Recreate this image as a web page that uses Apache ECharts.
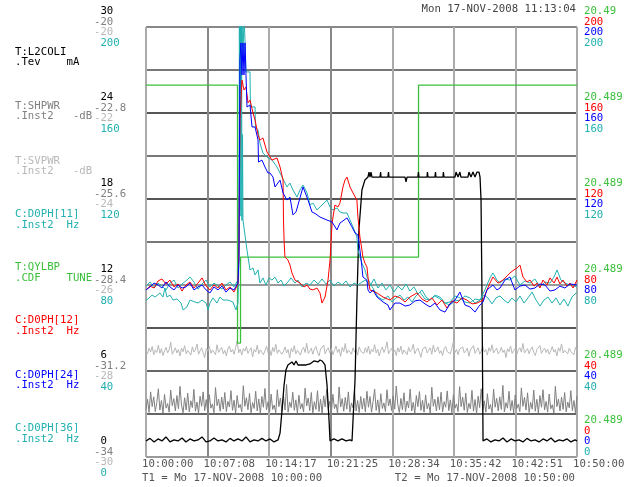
<!DOCTYPE html>
<html>
<head>
<meta charset="utf-8">
<script src="https://cdn.jsdelivr.net/npm/echarts@6/dist/echarts.min.js"></script>
<style>
html, body { margin: 0; padding: 0; background: #fff; }
#main { width: 629px; height: 487px; }
</style>
</head>
<body>
<div id="main"></div>
<script>
// 时间轴 (秒, 从 10:00:00 开始)
var xTicks = ['10:00:00', '10:07:08', '10:14:17', '10:21:25', '10:28:34', '10:35:42', '10:42:51', '10:50:00'];

// 左侧刻度
var l2coliTicks = [' 0', ' 6', ' 12', ' 18', ' 24', ' 30'];
var shpwrTicks = ['-34', '-31.2', '-28.4', '-25.6', '-22.8', '-20'];
var svpwrTicks = ['-30', '-28', '-26', '-24', '-22', '-20'];
var d0ph11Ticks = [' 0', ' 40', ' 80', ' 120', ' 160', ' 200'];
// 右侧刻度
var qylbpTicks = ['20.489', '20.489', '20.489', '20.489', '20.489', '20.49'];
var d0phTicks = ['0', '40', '80', '120', '160', '200'];

// T:QYLBP.CDF (TUNE)
var qylbp = [[0, 20.48973], [637, 20.48973], [637, 20.48853], [658, 20.48853], [658, 20.48893],
	[1897, 20.48893], [1897, 20.48973], [3000, 20.48973]];

// T:L2COLI.Tev (mA)
var l2coli = [[0, 1.12], [28, 1.30], [56, 1.05], [84, 1.26], [111, 1.12], [139, 1.40], [167, 1.05], [195, 1.19],
	[223, 1.12], [251, 1.33], [278, 1.05], [306, 1.26], [334, 1.12], [362, 1.19], [390, 1.40], [418, 1.05],
	[445, 1.12], [473, 1.33], [501, 1.12], [529, 1.19], [557, 1.05], [585, 1.30], [612, 1.12], [640, 1.26],
	[668, 1.12], [696, 1.40], [724, 1.05], [752, 1.19], [780, 1.12], [807, 1.30], [835, 1.12], [863, 1.26],
	[891, 1.05], [919, 1.19],
	[933, 1.67], [947, 3.28], [961, 5.02], [974, 6.07], [988, 6.42],
	[1016, 6.63], [1030, 6.42], [1044, 6.70], [1058, 6.42], [1086, 6.42], [1114, 6.42], [1141, 6.49],
	[1169, 6.70], [1197, 6.63], [1211, 6.77], [1225, 6.70], [1246, 6.42],
	[1260, 5.02], [1274, 2.58], [1281, 1.12],
	[1308, 1.26], [1336, 1.12], [1364, 1.26], [1392, 1.12], [1420, 1.19], [1434, 1.12],
	[1441, 2.58], [1455, 5.37], [1468, 10.95], [1482, 15.84], [1503, 18.63], [1524, 19.33], [1545, 19.53],
	[1552, 19.88], [1559, 19.53], [1566, 19.88], [1573, 19.53], [1629, 19.53], [1633, 19.88], [1636, 19.53],
	[1684, 19.53], [1688, 19.88], [1691, 19.53], [1803, 19.53], [1810, 19.19], [1817, 19.53], [1893, 19.53],
	[1896, 19.88], [1900, 19.53], [1956, 19.53], [1959, 19.88], [1963, 19.53], [2011, 19.53], [2015, 19.88],
	[2018, 19.53], [2067, 19.53], [2070, 19.88], [2074, 19.53], [2151, 19.53], [2158, 19.88], [2172, 19.53],
	[2185, 19.88], [2192, 19.53], [2241, 19.53], [2248, 19.88], [2262, 19.53], [2276, 19.88], [2290, 19.53],
	[2304, 19.88], [2318, 19.88], [2325, 19.53],
	[2332, 17.93], [2339, 10.95], [2346, 1.12],
	[2373, 1.26], [2401, 1.05], [2429, 1.19], [2457, 1.12], [2485, 1.33], [2513, 1.05], [2541, 1.26],
	[2568, 1.12], [2596, 1.19], [2624, 1.05], [2652, 1.30], [2680, 1.12], [2708, 1.19], [2736, 1.05],
	[2764, 1.26], [2791, 1.12], [2819, 1.33], [2847, 1.05], [2875, 1.19], [2903, 1.12], [2931, 1.26],
	[2958, 1.05], [2986, 1.19], [3000, 1.12]];

// T:SHPWR.Inst2 (-dB), 等间隔采样
var shpwr = [-32.45, -32.12, -32.55, -31.88, -32.36, -32.04, -32.52, -32.22, -31.78, -32.47, -32.16, -32.57, -31.96, -32.41, -32.26, -32.54, -31.82, -32.33, -32.10, -32.50,
	-32.00, -32.43, -31.70, -32.31, -32.56, -32.07, -32.47, -31.92, -32.53, -32.17, -32.39, -31.80, -32.51, -32.21, -32.58, -32.02, -32.35, -31.88, -32.49, -32.13,
	-32.55, -31.97, -32.41, -32.27, -32.56, -31.74, -32.33, -32.11, -32.51, -32.05, -32.44, -31.90, -32.52, -32.19, -32.37, -31.84, -32.48, -32.15, -32.57, -32.00,
	-32.40, -32.29, -32.53, -31.68, -32.35, -32.07, -32.46, -31.93, -32.56, -32.23, -32.42, -31.86, -32.50, -32.11, -32.58, -32.03, -32.38, -31.77, -32.47, -32.20,
	-32.53, -31.95, -32.45, -32.31, -32.56, -31.81, -32.36, -32.08, -32.51, -32.02, -32.47, -31.64, -32.54, -32.21, -32.39, -31.89, -32.48, -32.14, -32.57, -31.99,
	-32.43, -32.26, -32.53, -31.76, -32.34, -32.08, -32.49, -31.90, -32.56, -32.20, -32.45, -31.84, -32.52, -32.12, -32.57, -32.01, -32.37, -31.80, -32.46, -32.18,
	-32.55, -31.96, -32.42, -32.28, -32.58, -31.72, -32.37, -32.10, -32.51, -32.06, -32.44, -31.88, -32.54, -32.24, -32.40, -31.83, -32.50, -32.16, -32.55, -32.03,
	-32.44, -32.09, -32.53, -31.86, -32.38, -32.03, -32.54, -32.19, -31.79, -32.48, -32.14, -32.56, -31.94, -32.42, -32.24, -32.52, -31.81, -32.34, -32.11, -32.49,
	-32.01, -32.44, -31.69, -32.30, -32.55, -32.09, -32.46, -31.91, -32.52, -32.18, -32.40, -31.79, -32.50, -32.22, -32.57, -32.00, -32.36, -31.87, -32.48, -32.15,
	-32.54, -31.98, -32.43, -32.25, -32.57, -31.73, -32.35, -32.12, -32.50, -32.04, -32.46, -31.89, -32.53, -32.20, -32.38, -31.85, -32.49, -32.14, -32.56, -31.97,
	-32.41, -32.27, -32.52, -31.71, -32.36, -32.05, -32.48, -31.92, -32.55, -32.25, -32.43, -31.83, -32.51, -32.13, -32.58, -32.02, -32.39, -31.78, -32.48, -32.17,
	-32.54, -31.94, -32.44, -32.29, -32.56, -31.79, -32.38, -32.09, -32.50, -32.04, -32.45, -31.67, -32.53, -32.23, -32.41, -31.86, -32.49, -32.16, -32.56, -31.98,
	-32.42, -32.28, -32.52, -31.75, -32.35, -32.06, -32.47, -31.91, -32.55, -32.22, -32.44, -31.82, -32.51, -32.12, -32.57, -32.00, -32.38, -31.81, -32.47, -32.19,
	-32.54, -31.95, -32.43, -32.30, -32.57, -31.70, -32.36, -32.11, -32.50, -32.05, -32.45, -31.90, -32.53, -32.21, -32.40, -31.84, -32.49, -32.16, -32.56, -32.02];

// T:SVPWR.Inst2 (-dB), 等间隔采样
var svpwr = [-27.52, -27.60, -27.47, -27.56, -27.43, -27.62, -27.51, -27.57, -27.40, -27.59, -27.48, -27.64, -27.53, -27.45, -27.58, -27.50, -27.33, -27.61, -27.54, -27.46,
	-27.58, -27.50, -27.65, -27.47, -27.55, -27.41, -27.60, -27.52, -27.49, -27.63, -27.44, -27.56, -27.51, -27.37, -27.61, -27.53, -27.46, -27.58, -27.69, -27.48,
	-27.54, -27.43, -27.59, -27.51, -27.47, -27.62, -27.39, -27.57, -27.50, -27.45, -27.60, -27.52, -27.65, -27.49, -27.42, -27.56, -27.50, -27.61, -27.46, -27.30,
	-27.58, -27.49, -27.63, -27.48, -27.54, -27.43, -27.59, -27.52, -27.46, -27.67, -27.50, -27.56, -27.40, -27.60, -27.51, -27.47, -27.62, -27.53, -27.42, -27.57,
	-27.49, -27.64, -27.45, -27.55, -27.38, -27.59, -27.51, -27.48, -27.61, -27.54, -27.44, -27.58, -27.50, -27.70, -27.47, -27.56, -27.41, -27.60, -27.52, -27.49,
	-27.63, -27.50, -27.45, -27.57, -27.35, -27.59, -27.54, -27.47, -27.61, -27.49, -27.43, -27.56, -27.65, -27.49, -27.53, -27.40, -27.60, -27.51, -27.46, -27.58,
	-27.48, -27.62, -27.52, -27.42, -27.57, -27.49, -27.66, -27.45, -27.55, -27.36, -27.59, -27.51, -27.49, -27.61, -27.46, -27.56, -27.50, -27.63, -27.44, -27.54,
	-27.51, -27.59, -27.46, -27.57, -27.42, -27.61, -27.50, -27.55, -27.39, -27.58, -27.49, -27.65, -27.52, -27.44, -27.57, -27.48, -27.32, -27.60, -27.53, -27.47,
	-27.59, -27.51, -27.64, -27.46, -27.56, -27.42, -27.61, -27.51, -27.48, -27.62, -27.45, -27.55, -27.50, -27.38, -27.60, -27.52, -27.47, -27.57, -27.68, -27.49,
	-27.53, -27.44, -27.58, -27.52, -27.46, -27.61, -27.40, -27.56, -27.51, -27.44, -27.59, -27.53, -27.64, -27.48, -27.43, -27.55, -27.51, -27.60, -27.47, -27.31,
	-27.57, -27.50, -27.62, -27.49, -27.53, -27.44, -27.58, -27.53, -27.47, -27.66, -27.51, -27.55, -27.41, -27.59, -27.52, -27.46, -27.61, -27.54, -27.43, -27.56,
	-27.50, -27.63, -27.46, -27.54, -27.39, -27.58, -27.52, -27.47, -27.60, -27.55, -27.45, -27.57, -27.51, -27.69, -27.48, -27.55, -27.42, -27.59, -27.53, -27.48,
	-27.62, -27.51, -27.46, -27.56, -27.36, -27.58, -27.55, -27.48, -27.60, -27.50, -27.44, -27.57, -27.64, -27.50, -27.52, -27.41, -27.59, -27.52, -27.47, -27.57,
	-27.49, -27.61, -27.53, -27.43, -27.56, -27.50, -27.65, -27.46, -27.54, -27.37, -27.58, -27.52, -27.48, -27.60, -27.47, -27.55, -27.51, -27.62, -27.45, -27.53];

// C:D0PH[11].Inst2 (Hz)
var d0ph11 = [[0, 79.5], [28, 81.4], [56, 78.6], [84, 80.9], [111, 79.5], [139, 77.7], [167, 80.9], [195, 82.3],
	[223, 78.6], [251, 80.5], [278, 81.9], [306, 83.7], [334, 81.4], [362, 78.1], [390, 80.5], [418, 82.3],
	[445, 79.1], [473, 80.9], [501, 79.5], [529, 78.1], [557, 80.0], [585, 81.4], [612, 79.1], [640, 82.3],
	[647, 100.9], [654, 203], [661, 166], [668, 206], [675, 184.7], [682, 206], [689, 194], [696, 179.1],
	[724, 179.1], [727, 162.8], [759, 162.8], [762, 153.5], [780, 152.1], [793, 146.0], [814, 141.4],
	[842, 139.5], [877, 138.1], [912, 134.9], [947, 130.2], [981, 125.6], [1002, 127.4], [1023, 124.2],
	[1051, 120.9], [1072, 124.2], [1093, 126.5], [1121, 122.8], [1141, 117.2], [1162, 118.1], [1190, 114.9],
	[1225, 117.2], [1260, 119.5], [1281, 116.3], [1301, 114.9], [1329, 115.8], [1350, 114.0], [1371, 113.5],
	[1399, 113.5], [1420, 110.2], [1441, 107.0], [1468, 102.3], [1475, 96.3], [1503, 90.2], [1524, 87.0],
	[1538, 83.7], [1559, 80.9], [1587, 77.7], [1615, 74.4], [1650, 73.0], [1684, 74.9], [1712, 72.1],
	[1740, 74.0], [1768, 75.3], [1796, 73.0], [1823, 74.4], [1851, 72.1], [1879, 74.9], [1907, 76.7],
	[1942, 73.5], [1977, 73.0], [2011, 75.3], [2046, 74.4], [2081, 71.6], [2116, 72.1], [2151, 74.9],
	[2185, 74.0], [2220, 72.1], [2255, 71.6], [2290, 73.5], [2325, 73.0], [2359, 77.7], [2394, 83.3],
	[2415, 85.6], [2443, 82.3], [2464, 80.9], [2499, 82.8], [2533, 82.3], [2568, 84.2], [2603, 80.0],
	[2638, 81.9], [2673, 80.9], [2707, 82.8], [2742, 79.1], [2777, 81.4], [2812, 80.9], [2840, 83.7],
	[2861, 87.0], [2888, 82.3], [2916, 80.9], [2951, 80.0], [3000, 79.1]];

// C:D0PH[12].Inst2 (Hz)
var d0ph12 = [[0, 77.7], [28, 79.5], [56, 78.6], [84, 81.9], [111, 82.8], [139, 80.5], [167, 82.3], [195, 79.1],
	[223, 80.5], [251, 77.2], [278, 80.0], [306, 81.4], [334, 78.6], [362, 80.9], [390, 83.3], [418, 79.5],
	[445, 77.7], [473, 80.0], [501, 78.6], [529, 80.9], [557, 77.7], [585, 79.1], [612, 76.7], [640, 80.5],
	[647, 96.3], [654, 156.7], [668, 175.3], [682, 170.7], [696, 172.1], [710, 164.7], [724, 166.0],
	[745, 160.0], [759, 156.7], [780, 149.8], [793, 147.4], [814, 148.4], [828, 145.1], [842, 141.9],
	[877, 138.1], [912, 139.1], [933, 134.9], [954, 128.8], [957, 110.2], [961, 100.9], [967, 93.0],
	[988, 91.6], [1002, 89.3], [1016, 85.6], [1037, 82.3], [1072, 80.9], [1100, 79.1], [1121, 80.0],
	[1141, 78.1], [1162, 77.7], [1190, 78.6], [1211, 76.3], [1225, 71.6], [1246, 74.4], [1267, 82.3],
	[1281, 91.6], [1295, 108.8], [1315, 117.2], [1336, 116.3], [1350, 118.1], [1371, 125.6], [1385, 128.8],
	[1399, 130.2], [1420, 125.6], [1441, 122.8], [1468, 119.5], [1475, 111.6], [1489, 102.3], [1503, 96.3],
	[1510, 93.0], [1524, 90.2], [1538, 88.4], [1545, 83.7], [1559, 77.7], [1608, 76.3], [1650, 74.4],
	[1698, 73.0], [1733, 74.9], [1768, 74.0], [1803, 72.1], [1837, 74.4], [1886, 76.3], [1921, 73.5],
	[1956, 72.1], [1990, 74.0], [2025, 70.7], [2060, 73.0], [2095, 69.3], [2130, 72.6], [2165, 71.6],
	[2199, 74.0], [2234, 73.0], [2269, 71.2], [2304, 71.6], [2346, 73.0], [2373, 77.7], [2394, 80.9],
	[2415, 83.7], [2450, 80.9], [2485, 82.3], [2513, 84.2], [2533, 85.6], [2561, 87.0], [2582, 87.9],
	[2603, 89.3], [2624, 83.7], [2652, 81.4], [2673, 82.3], [2701, 79.5], [2722, 80.9], [2742, 78.6],
	[2763, 82.3], [2791, 80.0], [2812, 83.3], [2840, 80.9], [2861, 83.7], [2881, 80.5], [2902, 82.3],
	[2930, 79.5], [2951, 80.9], [2972, 78.6], [3000, 82.3]];

// C:D0PH[24].Inst2 (Hz)
var d0ph24 = [[0, 77.7], [28, 79.1], [56, 80.9], [84, 80.0], [111, 78.6], [139, 81.4], [167, 79.1], [195, 77.7],
	[223, 80.0], [251, 78.6], [278, 79.1], [306, 80.9], [334, 77.7], [362, 79.1], [390, 80.0], [418, 77.7],
	[445, 76.3], [473, 79.1], [501, 77.7], [529, 79.5], [557, 76.7], [585, 78.6], [612, 77.7], [640, 80.9],
	[647, 91.6], [654, 184.7], [661, 192.6], [668, 177.7], [675, 192.6], [682, 177.7], [689, 192.6],
	[696, 177.7], [703, 162.8], [724, 163.7], [738, 153.5], [759, 153.5], [780, 147.4], [783, 137.2],
	[807, 138.1], [828, 134.9], [849, 132.1], [863, 132.1], [884, 130.2], [898, 125.6], [933, 128.8],
	[954, 122.8], [981, 119.5], [1002, 120.9], [1023, 112.6], [1044, 114.0], [1058, 117.2], [1093, 125.6],
	[1128, 119.5], [1155, 114.0], [1183, 113.0], [1211, 111.6], [1260, 110.2], [1295, 109.3], [1329, 105.6],
	[1350, 108.8], [1399, 111.2], [1434, 107.0], [1455, 104.2], [1475, 103.3], [1489, 96.3], [1503, 88.4],
	[1510, 83.7], [1538, 82.3], [1545, 77.7], [1559, 76.3], [1580, 77.7], [1608, 74.4], [1650, 72.1],
	[1684, 70.7], [1698, 68.4], [1733, 71.6], [1768, 71.6], [1803, 70.2], [1837, 70.7], [1872, 72.6],
	[1907, 73.0], [1942, 71.2], [1977, 69.8], [2011, 71.6], [2046, 68.4], [2081, 67.4], [2116, 71.2],
	[2151, 73.0], [2185, 76.7], [2220, 70.7], [2255, 69.8], [2290, 67.4], [2318, 70.2], [2346, 72.1],
	[2373, 77.7], [2415, 80.0], [2443, 77.7], [2464, 78.6], [2499, 82.3], [2533, 83.7], [2568, 77.7],
	[2603, 79.5], [2638, 80.0], [2673, 78.1], [2707, 78.6], [2742, 80.5], [2777, 80.0], [2812, 77.2],
	[2847, 77.7], [2881, 79.5], [2916, 78.6], [2951, 80.5], [3000, 80.0]];

// C:D0PH[36].Inst2 (Hz)
var d0ph36 = [[0, 73.0], [14, 73.5], [42, 75.3], [63, 74.4], [97, 76.3], [118, 74.4], [132, 78.6], [146, 74.4],
	[167, 75.3], [188, 73.0], [216, 73.5], [244, 71.6], [258, 68.4], [285, 69.8], [306, 73.0], [341, 72.1],
	[362, 71.6], [390, 73.0], [418, 71.6], [432, 68.4], [445, 71.6], [466, 74.0], [494, 71.6], [515, 74.4],
	[536, 73.0], [571, 73.0], [605, 72.1], [626, 68.4], [640, 71.6],
	[647, 91.6], [650, 205], [654, 115], [658, 205], [661, 112], [665, 205], [668, 110], [672, 150], [675, 110.2],
	[703, 96.3], [724, 87.0], [745, 87.9],
	[759, 84.7], [780, 87.0], [793, 80.9], [814, 83.3], [835, 80.0], [856, 83.3], [877, 82.3], [898, 83.7],
	[919, 80.9], [940, 82.3], [961, 79.5], [988, 81.4], [1009, 83.3], [1037, 80.9], [1058, 82.3], [1086, 79.1],
	[1114, 80.9], [1141, 80.0], [1169, 82.3], [1197, 80.5], [1225, 82.8], [1253, 80.5], [1281, 82.3],
	[1308, 79.5], [1336, 81.4], [1364, 80.0], [1392, 81.9], [1420, 79.1], [1448, 80.9], [1475, 80.0],
	[1503, 81.4], [1531, 82.3], [1559, 79.5], [1587, 82.8], [1615, 78.6], [1643, 80.9], [1670, 77.7],
	[1698, 80.0], [1726, 76.7], [1754, 79.5], [1782, 77.7], [1810, 80.5], [1837, 77.2], [1865, 79.1],
	[1893, 75.8], [1921, 77.7], [1949, 74.4], [1977, 73.0], [2011, 74.9], [2046, 73.5], [2081, 71.6],
	[2116, 70.7], [2151, 72.6], [2185, 73.0], [2220, 74.9], [2255, 74.0], [2290, 71.6], [2325, 73.0],
	[2352, 75.3], [2380, 74.0], [2408, 71.2], [2436, 74.0], [2464, 74.9], [2492, 73.0], [2520, 71.6],
	[2547, 74.0], [2575, 72.1], [2603, 74.9], [2631, 71.6], [2659, 74.0], [2687, 76.7], [2715, 73.0],
	[2742, 70.2], [2770, 73.0], [2798, 74.4], [2826, 71.6], [2854, 74.0], [2881, 70.7], [2909, 73.5],
	[2937, 70.2], [2965, 74.4], [3000, 76.7]];

var BLACK = '#000000', GREY = '#808080', LGREY = '#b8b8b8', CYAN = '#22b0b0',
	GREEN = '#3cc03c', RED = '#ff0000', BLUE = '#0000ff';
var FONT = '"DejaVu Sans Mono", monospace';
var FS = 10.7;

// 等间隔采样转成 [t, v]
function withTime(vals) {
	var out = [];
	var step = 3000 / (vals.length - 1);
	for (var i = 0; i < vals.length; i++) {
		out.push([i * step, vals[i]]);
	}
	return out;
}

function rs(color) {
	return { color: color, fontFamily: FONT, fontSize: FS, lineHeight: 10.5 };
}

function lineSeries(name, yIdx, data, color, width) {
	return {
		name: name,
		type: 'line',
		yAxisIndex: yIdx,
		data: data,
		symbol: 'none',
		showSymbol: false,
		silent: true,
		clip: true,
		lineStyle: { color: color, width: width || 1 }
	};
}

// 左侧通道名
var names = [
	['T:L2COLI', 53, BLACK], ['.Tev    mA', 63, BLACK],
	['T:SHPWR', 107, GREY], ['.Inst2   -dB', 117, GREY],
	['T:SVPWR', 162, LGREY], ['.Inst2   -dB', 172, LGREY],
	['C:D0PH[11]', 215, CYAN], ['.Inst2  Hz', 226, CYAN],
	['T:QYLBP', 268, GREEN], ['.CDF    TUNE', 279, GREEN],
	['C:D0PH[12]', 321, RED], ['.Inst2  Hz', 332, RED],
	['C:D0PH[24]', 376, BLUE], ['.Inst2  Hz', 386, BLUE],
	['C:D0PH[36]', 429, CYAN], ['.Inst2  Hz', 440, CYAN]
];

var graphics = [];
for (var i = 0; i < names.length; i++) {
	graphics.push({
		type: 'text', left: 15, top: names[i][1] - 6, silent: true,
		style: { text: names[i][0], fill: names[i][2], font: FS + 'px ' + FONT }
	});
}
graphics.push({
	type: 'text', right: 53, top: 4, silent: true,
	style: { text: 'Mon 17-NOV-2008 11:13:04', fill: '#444', font: FS + 'px ' + FONT }
});
graphics.push({
	type: 'text', left: 142, top: 473, silent: true,
	style: { text: 'T1 = Mo 17-NOV-2008 10:00:00', fill: '#555', font: FS + 'px ' + FONT }
});
graphics.push({
	type: 'text', right: 54, top: 473, silent: true,
	style: { text: 'T2 = Mo 17-NOV-2008 10:50:00', fill: '#555', font: FS + 'px ' + FONT }
});

var myChart = echarts.init(document.getElementById('main'), null, { renderer: 'canvas' });

var option = {
	backgroundColor: '#ffffff',
	animation: false,
	grid: { left: 146, right: 52, top: 27, bottom: 30, outerBoundsMode: 'none' },
	graphic: graphics,
	xAxis: {
		type: 'value',
		min: 0,
		max: 3000,
		interval: 3000 / 7,
		axisLine: { show: false },
		axisTick: { show: false },
		splitLine: {
			show: true,
			lineStyle: { width: 2, color: ['#aaaaaa', '#888888', '#aaaaaa', '#888888', '#aaaaaa', '#aaaaaa', '#aaaaaa', '#777777'] }
		},
		axisLabel: {
			showMinLabel: true,
			showMaxLabel: true,
			align: 'left',
			padding: [0, 0, 0, -4],
			margin: 2,
			color: '#555',
			fontFamily: FONT,
			fontSize: FS,
			formatter: function (v) {
				return xTicks[Math.round(v * 7 / 3000)];
			}
		}
	},
	yAxis: [{
		// L2COLI, 左侧刻度组
		type: 'value',
		position: 'left',
		min: 0,
		max: 30,
		interval: 3,
		axisLine: { show: false },
		axisTick: { show: false },
		splitLine: {
			show: true,
			lineStyle: {
				width: 2,
				color: ['#999999', '#666666', '#666666', '#555555', '#999999', '#777777', '#555555', '#777777', '#555555', '#777777', '#888888']
			}
		},
		axisLabel: {
			showMinLabel: true,
			showMaxLabel: true,
			align: 'left',
			margin: 52,
			lineHeight: 10.5,
			formatter: function (v) {
				var k = Math.round(v / 6);
				if (Math.abs(v - k * 6) > 0.01) return '';
				return '{a|' + l2coliTicks[k] + '}\n{b|' + shpwrTicks[k] + '}\n{c|' + svpwrTicks[k] + '}\n{d|' + d0ph11Ticks[k] + '}';
			},
			rich: { a: rs(BLACK), b: rs(GREY), c: rs(LGREY), d: rs(CYAN) }
		}
	}, {
		// D0PH, 右侧刻度组
		type: 'value',
		position: 'right',
		min: 0,
		max: 200,
		interval: 20,
		axisLine: { show: false },
		axisTick: { show: false },
		splitLine: { show: false },
		axisLabel: {
			showMinLabel: true,
			showMaxLabel: true,
			align: 'left',
			margin: 7,
			lineHeight: 10.5,
			formatter: function (v) {
				var k = Math.round(v / 40);
				if (Math.abs(v - k * 40) > 0.01) return '';
				var s = '{g|' + qylbpTicks[k] + '}\n{r|' + d0phTicks[k] + '}\n{b|' + d0phTicks[k] + '}\n{c|' + d0phTicks[k] + '}';
				if (k === 0) s += '\n{e| }\n{e| }\n{e| }\n{e| }';
				return s;
			},
			rich: { g: rs(GREEN), r: rs(RED), b: rs(BLUE), c: rs(CYAN), e: rs('#fff') }
		}
	}, {
		type: 'value', show: false, min: -34, max: -20, splitLine: { show: false }
	}, {
		type: 'value', show: false, min: -30, max: -20, splitLine: { show: false }
	}, {
		type: 'value', show: false, min: 20.488, max: 20.490, splitLine: { show: false }
	}],
	series: [
		lineSeries('T:SVPWR', 3, withTime(svpwr), LGREY, 1),
		lineSeries('T:SHPWR', 2, withTime(shpwr), GREY, 1),
		lineSeries('T:QYLBP', 4, qylbp, GREEN, 1.3),
		lineSeries('T:L2COLI', 0, l2coli, BLACK, 1.3),
		lineSeries('C:D0PH[36]', 1, d0ph36, CYAN, 1),
		lineSeries('C:D0PH[11]', 1, d0ph11, CYAN, 1),
		lineSeries('C:D0PH[12]', 1, d0ph12, RED, 1),
		lineSeries('C:D0PH[24]', 1, d0ph24, BLUE, 1)
	]
};

myChart.setOption(option);
</script>
</body>
</html>
